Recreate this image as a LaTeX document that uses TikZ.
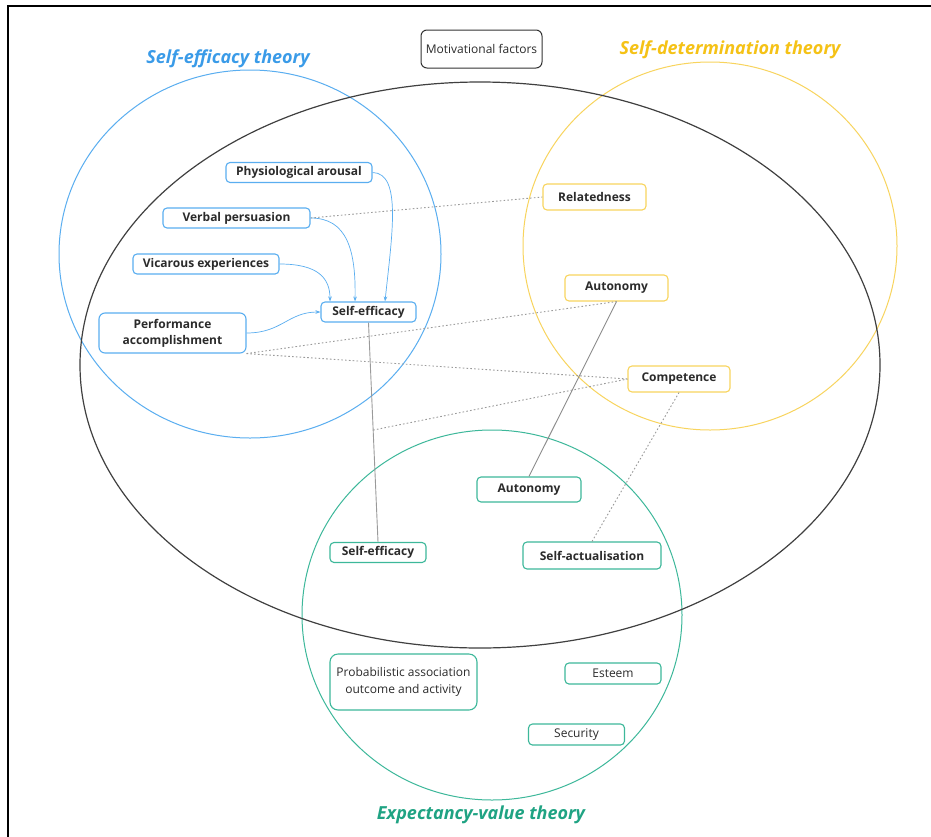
\documentclass[tikz,border=0pt]{standalone}
\usepackage{fontspec}
\setmainfont{Open Sans}
\usetikzlibrary{arrows.meta,calc}
\definecolor{seline}{HTML}{5AAEF0}
\definecolor{setitle}{HTML}{3A9BE8}
\definecolor{sdline}{HTML}{F8D45E}
\definecolor{sdtitle}{HTML}{F5C216}
\definecolor{evline}{HTML}{3DB89A}
\definecolor{evtitle}{HTML}{1FA383}
\definecolor{ink}{HTML}{2B2B2B}
\definecolor{link}{HTML}{9A9A9A}
\begin{document}
\begin{tikzpicture}[x=1pt,y=-1pt,
  box/.style={draw, rounded corners=4pt, line width=1.1pt, fill=white,
    inner sep=0pt, text=ink, align=center,
    font=\fontsize{12}{16}\selectfont\bfseries},
  sebox/.style={box, draw=seline},
  sdbox/.style={box, draw=sdline},
  evbox/.style={box, draw=evline},
  plainbox/.style={font=\fontsize{12}{17}\selectfont},
  theory/.style={font=\fontsize{18}{20}\selectfont\bfseries\itshape},
  influence/.style={draw=seline, line width=0.7pt,
    -{Stealth[length=5pt,width=3.6pt]}},
  relation/.style={draw=link, line width=0.9pt, dash pattern=on 1.6pt off 2.2pt},
  shared/.style={draw=link, line width=0.9pt}]
\useasboundingbox (0,0) rectangle (931,836);
\fill[white] (0,0) rectangle (931,836);

% page frame
\draw[line width=2pt, line cap=rect] (8,836) -- (8,6) -- (931,6);

% theory regions
\draw[seline, line width=1pt] (250,254) ellipse [x radius=191pt, y radius=184pt];
\draw[sdline, line width=1pt] (710,246) ellipse [x radius=187pt, y radius=184pt];
\draw[evline, line width=1pt] (492,615) ellipse [x radius=190pt, y radius=185pt];
\draw[black!75, line width=1.2pt] (480,365) ellipse [x radius=400pt, y radius=283pt];

% theory titles
\node[theory, text=setitle] (tse) at (228,59) {Self-efficacy theory};
\node[theory, text=sdtitle] (tsd) at (730,50) {Self-determination theory};
\node[theory, text=evtitle] (tev) at (481,815) {Expectancy-value theory};

\node[draw=black!80, line width=1pt, rounded corners=6pt, minimum width=121pt,
  minimum height=38pt, inner sep=0pt, text=ink, font=\fontsize{12}{14}\selectfont]
  (mf) at (481.5,49) {Motivational factors};

% self-efficacy sources
\node[sebox, minimum width=146pt, minimum height=20pt] (pa) at (299,172.5) {Physiological arousal};
\node[sebox, minimum width=147pt, minimum height=20pt] (vp) at (236.5,218) {Verbal persuasion};
\node[sebox, minimum width=146pt, minimum height=20pt] (ve) at (206,264) {Vicarous experiences};
\node[sebox, minimum width=95pt, minimum height=20pt] (se) at (368.5,312) {Self-efficacy};
\node[sebox, rounded corners=6pt, minimum width=147pt, minimum height=40pt] (perf) at (172.5,333) {Performance\\accomplishment};

% self-determination needs
\node[sdbox, minimum width=103pt, minimum height=26pt] (rel) at (594.5,197) {Relatedness};
\node[sdbox, minimum width=103pt, minimum height=26pt] (aut) at (616.5,288) {Autonomy};
\node[sdbox, minimum width=102pt, minimum height=26pt] (comp) at (679,379) {Competence};

% expectancy-value elements
\node[evbox, minimum width=104pt, minimum height=25pt] (gaut) at (529,489.5) {Autonomy};
\node[evbox, minimum width=96pt, minimum height=20pt] (gse) at (378,552.5) {Self-efficacy};
\node[evbox, minimum width=138pt, minimum height=27pt] (sa) at (592,555.5) {Self-actualisation};
\node[evbox, plainbox, rounded corners=8pt, minimum width=147pt, minimum height=56pt] (prob) at (403.5,682) {Probabilistic association\\outcome and activity};
\node[evbox, plainbox, minimum width=96pt, minimum height=21pt] (est) at (613,673.5) {Esteem};
\node[evbox, plainbox, minimum width=96pt, minimum height=21pt] (sec) at (576.5,734.5) {Security};

% sources feeding self-efficacy
\draw[influence] (pa.east) .. controls (402,173) and (392,235) .. ([xshift=16.5pt]se.north);
\draw[influence] (vp.east) .. controls (347,218) and (356,250) .. ([xshift=-13.5pt]se.north);
\draw[influence] (ve.east) .. controls (318,264) and (330,278) .. ([xshift=-38.5pt]se.north);
\draw[influence] (perf.east) .. controls (282,333) and (288,312) .. (se.west);

% links across theories
\draw[shared] (se.south) -- coordinate[pos=0.49] (mid) (gse.north);
\draw[draw=black!45, line width=0.9pt] (aut.south) -- (gaut.north);
\draw[relation] (vp.east) -- (rel.west);
\draw[relation] (perf.south east) -- (aut.south);
\draw[relation] (perf.south east) -- (comp.west);
\draw[relation] (mid) -- (comp.west);
\draw[relation] (sa.north) -- (comp.south);
\end{tikzpicture}
\end{document}
